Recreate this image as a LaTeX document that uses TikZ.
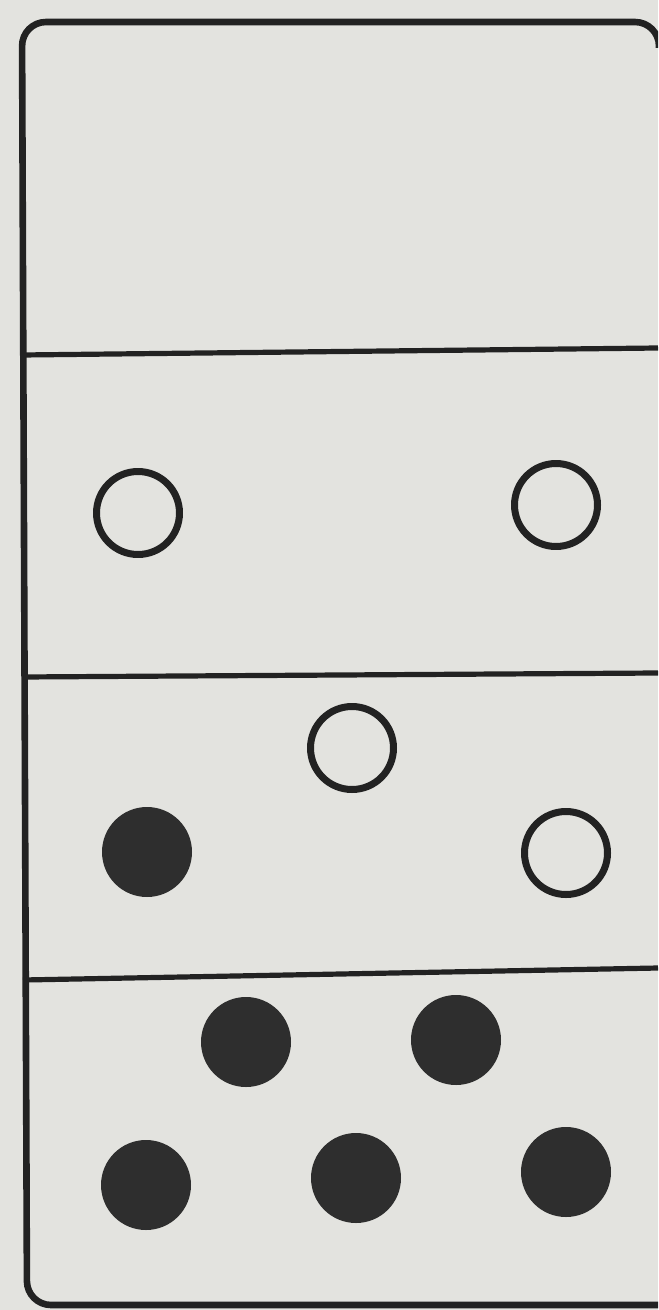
\documentclass[tikz,border=0pt]{standalone}
\usepackage{tikz}
\usetikzlibrary{positioning}
\definecolor{paper}{HTML}{E3E3DF}
\definecolor{ink}{HTML}{222222}
\definecolor{spot}{HTML}{2E2E2E}
\begin{document}
\begin{tikzpicture}[x=0.5pt,y=-0.5pt,line join=round,
      open spot/.style={circle,draw=ink,line width=3.5pt,minimum size=41.5pt,inner sep=0pt},
      full spot/.style={circle,fill=spot,minimum size=45pt,inner sep=0pt},
      divider/.style={draw=ink,line width=2.6pt}]
      \fill[paper] (0,0) rectangle (658,1310);
      \useasboundingbox (0,0) rectangle (658,1310);
      \begin{scope}
      \clip (0,0) rectangle (658,1310);
      % frame
      \draw[ink,line width=3.3pt,rounded corners=12pt]
        (690,1305) -- (27,1305) -- (22,22) -- (659,22) -- (659,48);
      % dividers
      \draw[divider] (22,355) -- (658,348);
      \draw[divider] (22,677) -- (658,673);
      \draw[divider] (23,980) -- (658,968);
      \end{scope}

      % second panel
      \node[open spot] (a) at (138,513) {};
      \node[open spot] (b) at (556,505) {};
      % third panel
      \node[open spot] (c) at (352,748) {};
      \node[full spot] (e) at (147,852) {};
      \node[open spot] (d) at (566,853) {};
      % fourth panel
      \node[full spot] (f) at (246,1042) {};
      \node[full spot] (g) at (456,1040) {};
      \node[full spot] (h) at (146,1185) {};
      \node[full spot] (i) at (356,1178) {};
      \node[full spot] (j) at (566,1172) {};
    \end{tikzpicture}
\end{document}
